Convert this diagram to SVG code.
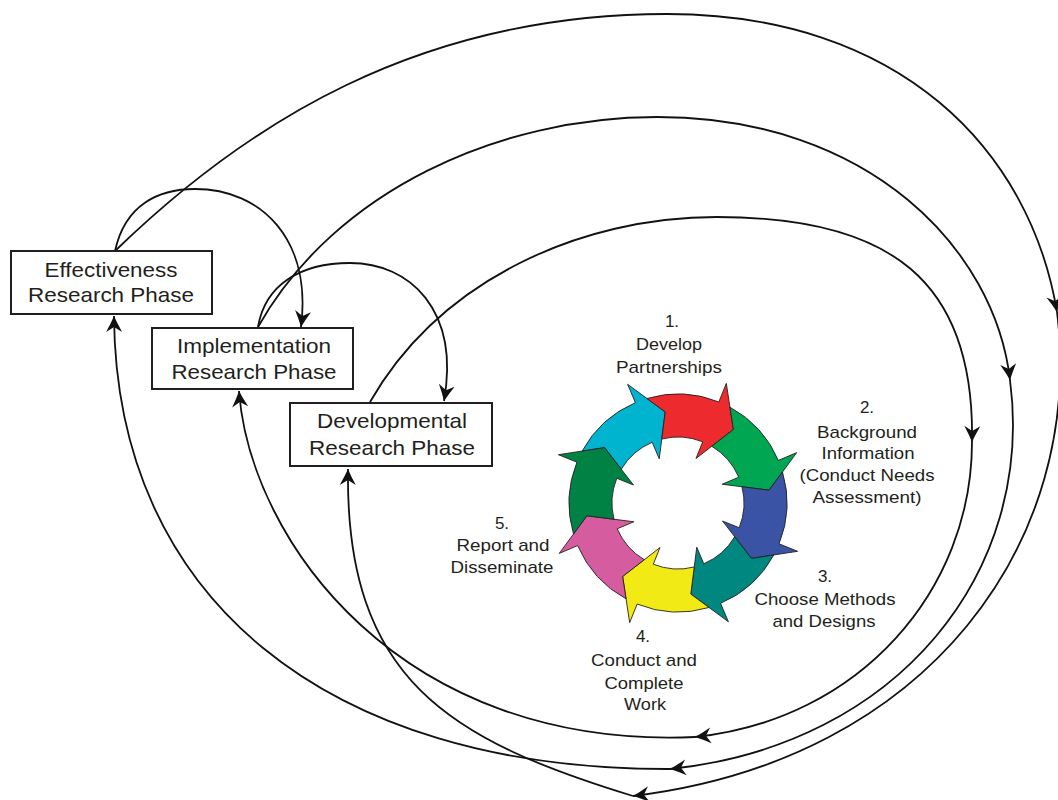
<svg xmlns="http://www.w3.org/2000/svg" width="1058" height="800" viewBox="0 0 1058 800">
<style>
.box{fill:#fff;stroke:#231f20;stroke-width:2}
.bt{font-family:"Liberation Sans",Arial,sans-serif;font-size:21px;fill:#231f20;text-anchor:middle}
.ct{font-family:"Liberation Sans",Arial,sans-serif;font-size:17px;fill:#231f20;text-anchor:middle}
.cn{fill:none;stroke:#111;stroke-width:1.8;marker-end:url(#ah)}
.ar{stroke:#231f20;stroke-width:0.8;stroke-linejoin:miter}
</style>
<defs>
<marker id="ah" viewBox="-17 -9 18 18" refX="0" refY="0" markerWidth="18" markerHeight="18" orient="auto" markerUnits="userSpaceOnUse">
<path d="M0,0 Q-7,-3 -16,-8 L-11,0 L-16,8 Q-7,3 0,0 Z" fill="#111"/>
</marker>
<path id="cyc" d="M108.31,12.28 A109,109 0 0,1 77.07,77.07 L91.22,91.22 L46,79.67 L33.94,33.94 L46.67,46.67 A66,66 0 0,0 65.23,10.04 L88.87,23.81 Z"/>
</defs>
<rect width="1058" height="800" fill="#fff"/>

<g id="connectors">
<path class="cn" d="M115,251 C245,125 417,14 667,14 C900,14 1030,150 1057,312"/>
<path class="cn" d="M1057,312 C1085,540 930,760 633,796"/>
<path class="cn" d="M633,796 C450,740 345,680 348,469"/>
<path class="cn" d="M258,327 C335,190 500,117 657,117 C870,117 995,250 1010,380"/>
<path class="cn" d="M1010,380 C1035,570 900,745 670,769"/>
<path class="cn" d="M670,769 C325,770 116,597 114,316"/>
<path class="cn" d="M370,402 C440,280 580,217 717,217 C890,217 975,280 972,442"/>
<path class="cn" d="M972,442 C972,590 860,720 695,737"/>
<path class="cn" d="M695,737 C400,750 250,540 239,391"/>
<path class="cn" d="M115,251 C125,205 158,189 195,189 C262,189 312,240 301,327"/>
<path class="cn" d="M258,327 C265,285 300,263 350,263 C410,263 460,310 444,401"/>
</g>

<g id="effectiveness">
<rect class="box" x="11" y="251" width="201" height="63"/>
<text class="bt" x="111" y="277" textLength="133" lengthAdjust="spacingAndGlyphs">Effectiveness</text>
<text class="bt" x="111" y="302" textLength="166" lengthAdjust="spacingAndGlyphs">Research Phase</text>
</g>
<g id="implementation">
<rect class="box" x="152" y="328" width="201" height="61"/>
<text class="bt" x="254" y="353" textLength="154" lengthAdjust="spacingAndGlyphs">Implementation</text>
<text class="bt" x="254" y="379" textLength="165" lengthAdjust="spacingAndGlyphs">Research Phase</text>
</g>
<g id="developmental">
<rect class="box" x="290" y="403" width="202" height="63"/>
<text class="bt" x="392" y="428" textLength="150" lengthAdjust="spacingAndGlyphs">Developmental</text>
<text class="bt" x="392" y="455" textLength="166" lengthAdjust="spacingAndGlyphs">Research Phase</text>
</g>

<g id="cycle" transform="translate(678,503)">
<use href="#cyc" class="ar" fill="#00b4d0" transform="rotate(-158)"/>
<use href="#cyc" class="ar" fill="#ed2a2e" transform="rotate(-113)"/>
<use href="#cyc" class="ar" fill="#00a651" transform="rotate(-68)"/>
<use href="#cyc" class="ar" fill="#3a53a4" transform="rotate(-23)"/>
<use href="#cyc" class="ar" fill="#00877f" transform="rotate(22)"/>
<use href="#cyc" class="ar" fill="#f2ea14" transform="rotate(67)"/>
<use href="#cyc" class="ar" fill="#d65ca0" transform="rotate(112)"/>
<use href="#cyc" class="ar" fill="#008244" transform="rotate(157)"/>
</g>

<g id="step1">
<text class="ct" x="672" y="327">1.</text>
<text class="ct" x="669" y="350" textLength="66" lengthAdjust="spacingAndGlyphs">Develop</text>
<text class="ct" x="669" y="373" textLength="106" lengthAdjust="spacingAndGlyphs">Partnerships</text>
</g>
<g id="step2">
<text class="ct" x="867" y="413">2.</text>
<text class="ct" x="867" y="438" textLength="100" lengthAdjust="spacingAndGlyphs">Background</text>
<text class="ct" x="868" y="459" textLength="93" lengthAdjust="spacingAndGlyphs">Information</text>
<text class="ct" x="867" y="481" textLength="135" lengthAdjust="spacingAndGlyphs">(Conduct Needs</text>
<text class="ct" x="867" y="503" textLength="109" lengthAdjust="spacingAndGlyphs">Assessment)</text>
</g>
<g id="step3">
<text class="ct" x="825" y="582">3.</text>
<text class="ct" x="825" y="605" textLength="141" lengthAdjust="spacingAndGlyphs">Choose Methods</text>
<text class="ct" x="824" y="627" textLength="103" lengthAdjust="spacingAndGlyphs">and Designs</text>
</g>
<g id="step4">
<text class="ct" x="643" y="642">4.</text>
<text class="ct" x="644" y="666" textLength="106" lengthAdjust="spacingAndGlyphs">Conduct and</text>
<text class="ct" x="644" y="689" textLength="79" lengthAdjust="spacingAndGlyphs">Complete</text>
<text class="ct" x="645" y="710" textLength="42" lengthAdjust="spacingAndGlyphs">Work</text>
</g>
<g id="step5">
<text class="ct" x="502" y="529">5.</text>
<text class="ct" x="503" y="551" textLength="93" lengthAdjust="spacingAndGlyphs">Report and</text>
<text class="ct" x="502" y="573" textLength="103" lengthAdjust="spacingAndGlyphs">Disseminate</text>
</g>
</svg>
